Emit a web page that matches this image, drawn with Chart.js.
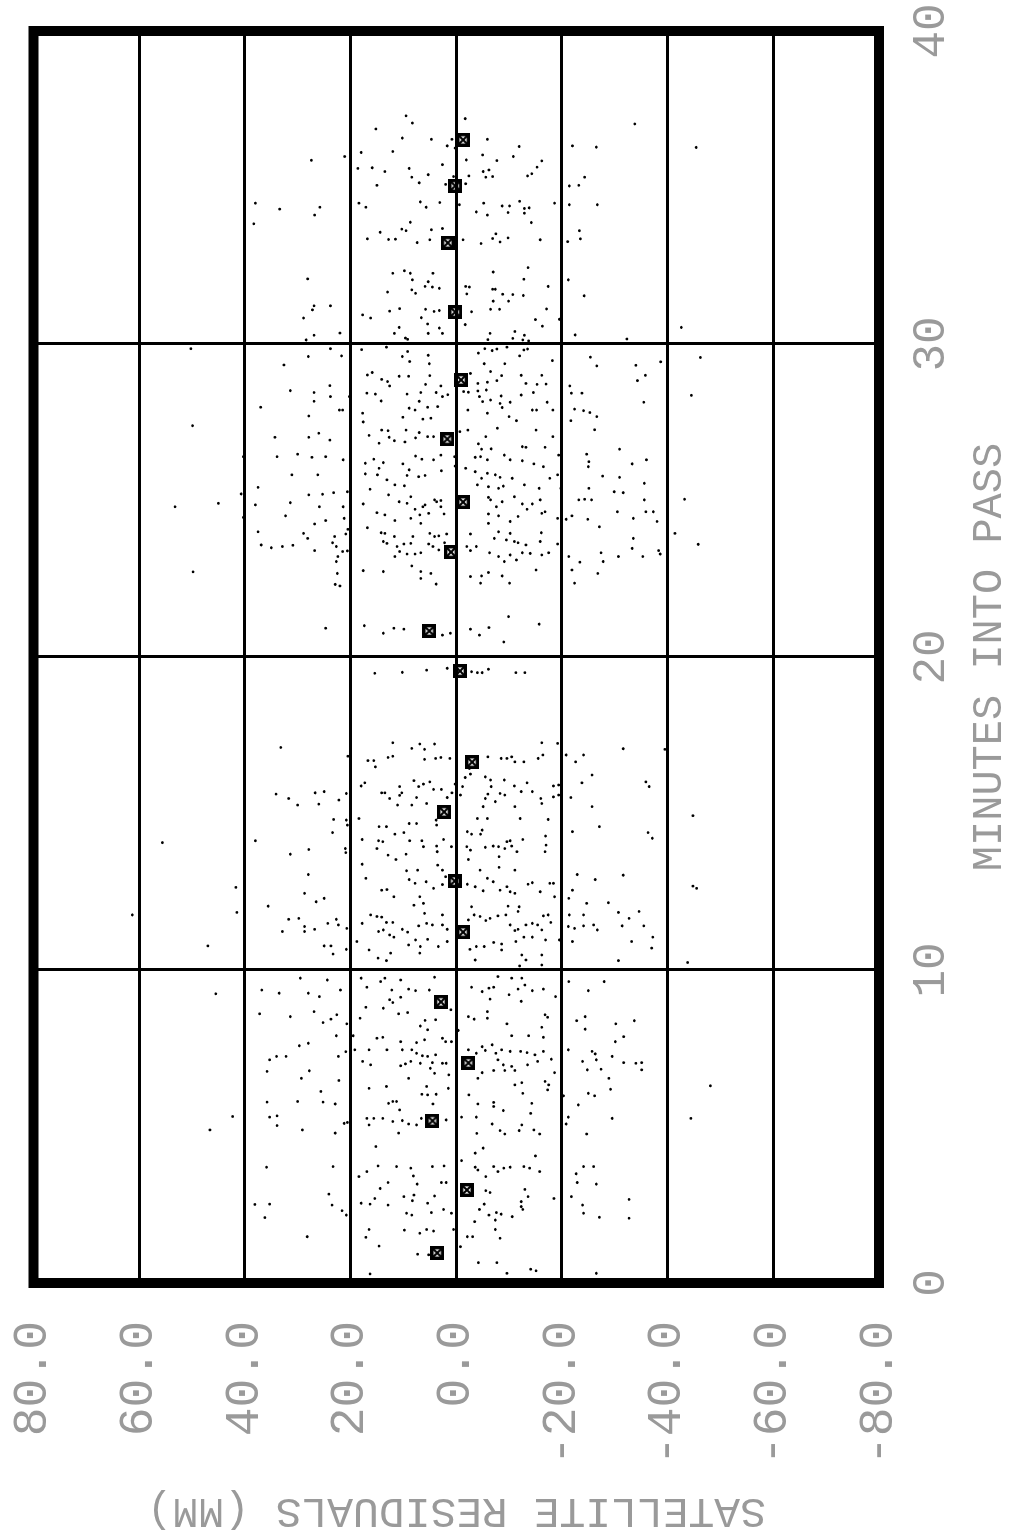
<!DOCTYPE html>
<html>
<head>
<meta charset="utf-8">
<title>Satellite residuals</title>
<script src="https://cdn.jsdelivr.net/npm/chart.js@4/dist/chart.umd.min.js"></script>
<style>
  html, body { margin: 0; padding: 0; background: #fff; overflow: hidden; width: 1023px; height: 1536px; }
  /* the chart is drawn the usual way and then turned a quarter left, like the scanned page */
  #wrap { position: absolute; left: 0; top: 0; width: 1536px; height: 1023px;
          transform-origin: 0 0; transform: translateY(1536px) rotate(-90deg); }
</style>
</head>
<body>
<div id="wrap"><canvas id="chart"></canvas></div>
<script>
// axis ticks
const minuteTicks = [0, 10, 20, 30, 40];
const residTicks = [-80, -60, -40, -20, 0, 20, 40, 60, 80];

// normal points (crossed boxes): minutes into pass / residual in mm
const normalMin = [36.52, 35.05, 33.23, 31.02, 28.85, 26.96, 24.95, 23.35, 20.83, 19.55,
                   16.64, 15.05, 12.84, 11.21, 8.98, 7.03, 5.18, 2.97, 0.96];
const normalRes = [-1.3, 0.2, 1.6, 0.2, -0.9, 1.7, -1.3, 1.0, 5.1, -0.7,
                   -3.0, 2.3, 0.3, -1.3, 2.9, -2.3, 4.5, -2.0, 3.6];

// single range residuals, [minute, residual]
const dots30to38 = [
  [37.29,9.5],[37.06,8.3],[37.2,-1.7],[36.87,15.2],[36.58,10.2],[36.54,4.7],[36.54,0.8],[36.54,-5.9],[36.33,1.7],[36.26,0.2],
  [36.31,-11.9],[36.33,-22],[36.29,-26.5],[37.03,-33.8],[36.28,-45.4],[36.15,12],[36.12,18],[35.99,21.1],[35.87,27.4],[35.88,-1.9],
  [36.04,-5],[35.86,-7.7],[35.99,-10.8],[35.85,-16.2],[35.73,2.6],[35.61,18.6],[35.63,15.9],[35.51,13.5],[35.61,8.9],[35.51,-5.1],
  [35.56,-6.2],[35.37,-2.4],[35.33,-5.6],[35.35,-6.9],[35.35,0.5],[35.33,8.4],[35.41,5.3],[35.37,-13.5],[35.44,-14.3],[35.65,-15.3],
  [35.33,-24.3],[35.15,7],[35.1,2],[35.12,-1.8],[35.07,15],[35.05,-21.4],[35.07,-23.2],
  [34.5,38],[34.31,33.4],[34.37,25.8],[34.12,26.8],[33.84,38.3],[34.5,18.4],[34.37,17.1],[34.54,6.8],[34.52,3.1],[34.37,5.7],
  [34.45,-0.6],[34.5,-5.2],[34.22,-3.8],[34.12,-5.9],[34.41,-8.7],[34.41,-10.1],[34.2,-9.8],[34.56,-12],[34.33,-12.9],[34.35,-13.8],
  [34.18,-12.9],[34.5,-18.6],[34.45,-21.4],[34.45,-26.7],[33.88,-14.2],[33.89,8.7],[33.67,10.3],[33.62,9.5],[33.65,4.7],[33.69,2.6],
  [33.57,14.4],[33.36,16.8],[33.34,12.8],[33.35,11.5],[33.24,7.4],[33.33,5],[33.33,-1.3],[33.21,-4.7],[33.37,-6.9],[33.52,-7.5],
  [33.26,-8.3],[33.39,-9.8],[33.33,-15.9],[33.27,-21.1],[33.62,-23.3],[33.36,-23.5],
  [32.26,12],[32.34,9.8],[32.26,8.7],[32.05,8.3],[32.26,4.4],[31.99,5.3],[31.84,5.9],[31.82,4.5],[31.78,3.2],[31.73,8.4],
  [31.62,7.7],[31.66,13],[32.08,28.1],[32.3,-7],[32.44,-13.6],[32.07,-12.8],[31.84,-17.4],[32.05,-21.2],[31.54,-24.2],[31.84,-1.8],
  [31.82,-2.5],[31.6,-2],[31.75,-6.9],[31.75,-7.4],[31.59,-8.8],[31.58,-10.7],[31.55,-12.7],[31.37,-7],[31.37,-9.9],[31.22,26.9],
  [31.22,23.8],[31.09,27.2],[30.83,28.9],[30.93,17.7],[30.83,16.2],[31.05,12.6],[31.13,10.7],[31.11,5.8],[31.04,4.2],[31.07,3.2],
  [31.03,-2.9],[31.11,-6.5],[31.11,-8.2],[31.12,-17.1],[30.78,-15],[30.57,-16.3],[30.79,-19.5],[30.62,-1.7],[30.84,6.6],[30.64,5.4],
  [30.51,3.2],[30.53,10.8],[30.34,11.7],[30.19,9.6],[30.15,9.2],[30.34,5.3],[30.34,2.6],[30.34,-6.4],[30.4,-11.1],[30.28,-12.9],
  [30.18,-10.7],[30.13,-12.6],[30.1,-13.7],[30.14,-6],[30.29,-22.5],[30.16,-32.3],[30.53,-42.6],[30.35,22],[30.28,26.9],[30.13,28.4]
];

const dots21to30 = [
  [29.85,50.2],[29.6,28],[29.33,32.6],[29.85,23.8],[29.62,21.7],[29.82,17.9],[29.9,13.2],[29.6,10.2],[29.76,9.2],[29.44,8.8],
  [29.64,5.3],[29.37,5.1],[29.71,-4.2],[29.85,-5.4],[29.79,-6.8],[29.84,-7.7],[29.9,-9.6],[29.62,-12],[29.81,-12.8],[29.84,-13.5],
  [29.37,-9.2],[29.37,-5.3],[29.47,-18.2],[29.58,-25.4],[29.3,-26.6],[29.32,-34],[29.43,-38.7],[29.57,-46.2],
  [29.09,15.9],[29.01,16.8],[28.87,14.1],[28.8,13],[28.97,10.8],[28.97,9],[28.99,5],[29.12,-6.5],[28.99,-8.6],[29,-12.3],
  [29,-16.2],[29,-35.8],[28.83,-34.3],[29.06,-2.7],[28.67,23.9],[28.51,31.4],[28.45,26.9],[28.43,16.9],[28.4,15.3],[28.66,12.6],
  [28.71,5.8],[28.66,2.9],[28.74,-4.1],[28.78,-5.9],[28.83,-7.7],[28.74,-13.2],[28.71,-15.3],[28.72,-17],[28.66,-21.5],[28.43,-23.8],
  [28.48,-1.4],[28.46,-2.3],[28.5,-4.1],[28.53,-5.7],[28.34,-8.5],[28.37,-12.3],[28.45,-14.6],[28.36,-44.5],[28.32,20.2],[28.32,23.8],
  [28.17,26.9],[28.18,14.2],[28.4,9.3],[28.45,6.7],[28.17,7],[28.45,3.8],[28.32,2.6],[28.38,1.6],[28.32,-4.4],[28.16,-5],
  [28.21,-6.5],[28.1,-8.3],[28.14,-10.2],[28.14,-17.2],[28.14,-35.5],[28.43,-21.8],[27.98,37],[27.89,22.1],[27.89,21.5],[27.95,8.9],
  [27.89,7.8],[27.98,5.4],[28,3.5],[27.89,-2.2],[27.97,-8.7],[27.89,-14.4],[27.89,-18.3],[27.92,-22.4],[27.87,-24.1],[27.81,-25.3],
  [27.68,-10],[27.55,-11.4],[27.55,-21.7],[27.68,-26.6],[27.7,27.9],[27.79,17.7],[27.51,17.6],[27.66,10.1],[27.6,6.3],[27.63,4.8],
  [27.79,-5.9],[27.89,-15.2],[27.39,49.9],[27.26,-26.2],[27.25,14.1],[27.23,12.9],[27.25,9.5],[27.17,7],[27.04,5.4],[27.04,4.3],
  [27.2,-0.7],[27.25,-2.2],[27.04,-5.6],[27.31,-7.8],[27.25,-15.1],[27.04,-18.3],[27.02,34.3],[27.02,27.9],[27.15,26],[26.93,23.9],
  [27.08,16.5],[26.83,14.6],[27.02,12.7],[26.91,11.7],[26.87,9.7],[27,7.7],[26.81,-4.2],[26.72,-12.5],[26.65,-6.6],[26.64,-4.8],
  [26.7,-13.2],[26.7,-16.8],[26.64,-30.9],
  [26.4,33.9],[26.48,30],[26.38,27.3],[26.4,24.7],[26.3,21.4],[26.4,40.3],[26.19,17.2],[26.32,15.6],[26.21,13.8],[26.03,14.6],
  [26.17,10.1],[25.98,8.9],[26.42,7.7],[26.32,6.5],[26.3,4.3],[26.45,2.9],[26.4,0.3],[26.1,0.2],[26.03,-1.8],[26.38,-3.6],
  [26.4,-4.6],[26.3,-5.9],[26.45,-9.1],[26.3,-10.2],[26.27,-12.5],[26.17,-14.7],[26.08,-16.5],[26.45,-19.4],[26.48,-24.7],[26.24,-25.1],
  [26.08,-25],[26.17,-33.3],[26.3,-36],[25.82,31.1],[25.82,26.2],[25.85,17.2],[25.82,14.9],[25.66,13.1],[25.8,9.3],[25.76,7.1],
  [25.8,5.9],[25.95,2.8],[25.92,-3.6],[25.71,-4.8],[25.87,-5.9],[25.82,-7.4],[25.74,-8.3],[25.71,-10.6],[25.71,-17.7],[25.82,-19.2],
  [25.78,-27.7],[25.74,-30.9],[25.55,-35.6],
  [25.42,37.5],[25.18,27.9],[25.2,25.3],[25.25,23.2],[25.28,20.6],[25.36,16.3],[25.18,12.8],[25.5,11.6],[25.47,9.8],[25.12,8.6],
  [24.8,6.3],[25.02,4.1],[25,2.9],[25.5,-4],[25.44,-6.1],[25.39,-8],[25.46,-8.9],[25.5,-12.9],[25.39,-15.7],[25.39,-19.8],
  [25.39,-25.1],[25.28,-29.9],[25.25,-31.6],[25.21,40.7],[24.86,38],[24.8,53.2],[24.91,45],[24.93,31.4],[24.8,25.9],[24.8,21.4],
  [24.89,17.6],[24.61,15],[24.54,13.5],[24.96,10.8],[24.91,9.3],[24.72,7.8],[24.54,6.9],[24.86,5.9],[24.59,5.2],[24.96,3.7],
  [24.8,2.9],[24.57,2.3],[25.1,-6.1],[25.02,-6.5],[24.8,-7.6],[24.57,-6.1],[24.96,-8.7],[25.12,-11],[24.89,-12.5],[24.72,-13.4],
  [24.89,-14.4],[25.02,-15.9],[24.59,-16.2],[24.64,-16.8],[24.43,-19.2],[25.02,-23.2],[25.04,-24.3],[25.02,-25.6],[24.64,-30.5],[24.43,-33.5],
  [25.02,-35.6],[24.64,-35.9],[24.64,-37.3],[24.33,-38],[25.04,-43.2],
  [24.51,32.3],[24.46,40.3],[24.25,26.8],[24.36,24.7],[24.43,21.2],[24.36,11.6],[24.43,8.6],[24.27,6.7],[24.27,-6.1],[24.51,-8],
  [24.33,-10.2],[24.49,-11.7],[24.4,-20.8],[24.51,-21.9],[24.4,-24.9],[24.16,-27.1],[24,37.5],[23.95,28.9],[23.79,28.1],[23.85,23],
  [23.93,20.9],[24.08,20.5],[24.13,16.8],[23.97,14.2],[23.95,13.5],[23.85,11.7],[23.85,8.2],[23.95,5],[23.85,4.1],[23.87,3.3],
  [23.93,1.8],[23.93,-2.7],[23.79,-7.2],[24,-8],[23.74,-9.5],[23.95,-10.2],[23.69,-11],[23.65,-11.7],[23.58,-13.2],[23.97,-16.1],
  [23.69,-15.9],[23.61,-19.2],[23.79,-33.5],[23.95,-41.4],[23.6,-45.8],
  [23.58,36.9],[23.49,35],[23.53,32.9],[23.57,30.9],[23.4,26.8],[23.65,23.4],[23.53,22.7],[23.37,21.5],[23.39,20.6],[23.21,22.4],
  [23.05,22.7],[22.67,22.5],[22.32,22.9],[22.27,22],[22.76,17.6],[22.73,13.8],[23.69,13.8],[23.63,13.1],[23.53,11.2],[23.61,9.9],
  [23.63,8.6],[23.37,10.7],[23.21,11.6],[23.29,9.3],[23.29,7.8],[23.33,6.7],[23.61,5.2],[23.53,4.4],[23.65,2.2],[23.42,3.3],
  [23.53,-2],[23.53,-3.8],[23.4,-2.7],[23.33,-6.3],[23.21,-8],[23.05,-9.1],[23.26,-10.2],[23.1,-11.4],[23.33,-12.5],[23.31,-14],
  [23.26,-16.2],[23.33,-17.5],[23.21,-21.3],[23.03,-23.4],[23.33,-27.4],[23.05,-27.8],[23.21,-30.7],[23.47,-33.3],[23.21,-35.3],[23.4,-38.3],
  [23.29,-38.6],[22.78,-21.9],[22.67,-26.8],[22.36,-22.4],[22.78,-15.1],[22.59,-8.7],[22.36,-10.1],[22.7,-6.1],[22.59,-4.8],[22.57,-2.7],
  [22.36,-4.6],[22.91,8.4],[22.73,6.7],[22.67,4.8],[22.51,6.7],[22.33,3.8],[22.72,49.8],[21.29,-9.9],[21.05,-15.7],[20.92,24.7],
  [21,17.4],[20.76,13.8],[20.92,11.8],[20.89,9.9],[20.7,2.6],[20.76,1.1],[20.89,-2.7],[20.7,-4.4],[20.94,-6.2]
];

const dots12to21 = [
  [20.48,-9.0],[19.48,15.4],[19.51,10.2],[19.58,5.6],[19.64,1.7],[19.53,-2.9],[19.5,-4.0],[19.5,-4.9],[19.61,-6.1],[19.5,-11.3],
  [19.5,-13.0],
  [17.11,33.2],[17.26,12.0],[17.08,8.4],[17.22,6.9],[17.05,6.0],[17.22,4.1],[17.26,-16.2],[17.24,-19.2],[17.07,-31.6],[17.05,-39.5],
  [16.83,20.5],[16.69,16.7],[16.69,15.6],[16.49,15.3],[16.79,12.9],[16.83,12.0],[16.73,6.0],[16.76,3.9],[16.79,2.9],[16.76,1.2],
  [16.81,-6.0],[16.76,-8.5],[16.76,-9.6],[16.65,-11.1],[16.81,-10.5],[16.65,-12.8],[16.76,-15.5],[16.87,-16.4],[16.87,-20.8],[16.65,-22.6],
  [16.87,-24.1],[16.23,-25.7],[15.98,-23.8],[15.91,-19.4],[16.01,-35.9],[15.86,-36.5],[14.93,-44.8],[14.39,-36.3],[14.21,-37.1],[13.03,-31.6],
  [12.68,-44.8],[12.61,-45.5],[15.51,-21.7],[15.22,-25.7],[14.42,-22.0],[14.58,-27.1],[13.05,-22.9],[12.89,-26.3],
  [16.44,-2.5],[16.26,-2.7],[16.17,-5.5],[16.07,-6.5],[16.07,-9.1],[15.88,-11.0],[15.98,-13.4],[15.7,-12.3],[15.7,-14.4],[15.59,-9.2],
  [15.64,-8.3],[15.86,-6.6],[15.62,-6.0],[16.15,-1.7],[15.86,-1.2],[15.59,-0.8],[15.94,0.2],[15.66,0.8],[15.51,1.7],[15.77,2.8],
  [15.77,4.3],[16.01,5.0],[15.94,6.2],[16.05,8.0],[15.86,7.1],[15.86,10.7],[15.66,10.3],[15.58,10.7],[15.66,13.5],[15.66,14.1],
  [15.88,18.0],[15.98,17.3],[15.64,20.8],[15.7,25.0],[15.66,26.7],[15.62,34.1],[15.48,31.7],[15.27,30.0],[15.3,26.0],[15.43,22.2],
  [15.48,12.6],[15.27,11.1],[15.51,7.5],[15.27,8.4],[15.32,5.6],[14.79,3.8],[14.63,3.7],[15.48,-5.5],[15.38,-7.4],[15.22,-5.1],
  [15.22,-11.1],[15.48,-16.0],[15.32,-16.2],[15.53,-18.4],[15.59,-19.4],[15.88,-18.4],[14.84,-4.0],[14.84,-5.9],[14.84,-12.1],[14.81,-17.4],
  [14.81,23.2],[14.79,20.8],[14.63,20.6],[14.84,18.4],[14.39,23.4],[14.58,14.6],[14.58,13.2],[14.34,11.6],[14.39,9.9],[14.68,8.9],
  [14.68,7.5],[14.42,-2.1],[14.34,-2.9],[14.47,-4.9],[14.34,-4.6],[14.28,-16.9],
  [14.17,17.8],[14.13,14.7],[14.1,13.9],[14.13,8.8],[14.13,6.5],[14.17,2.4],[14.17,-12.6],[14.1,-9.6],[14.13,-10.2],[14.13,38.0],
  [14.07,55.6],[13.7,31.4],[13.85,27.9],[13.88,21.0],[13.75,20.9],[13.88,15.0],[13.67,12.9],[13.53,11.4],[13.7,9.5],[13.94,6.2],
  [13.96,3.7],[13.78,3.6],[13.94,0.9],[13.94,-2.0],[13.83,-2.7],[13.92,-5.5],[13.96,-7.0],[13.94,-8.0],[13.88,-9.2],[13.96,-10.5],
  [13.78,-11.5],[13.62,-8.1],[13.78,-16.8],[13.99,-17.0],[13.38,17.8],[13.35,3.5],[13.53,-2.3],[13.28,-8.1],[13.19,-4.5],[13.19,-11.1],
  [13.05,28.0],[12.93,17.1],[13.17,9.4],[13.19,7.3],[12.89,8.9],[12.77,7.8],[12.82,5.7],[12.61,4.3],[12.73,2.6],[13.19,2.6],
  [12.98,2.0],[12.74,-2.1],[12.66,-3.6],[12.53,-5.1],[12.93,-5.9],[12.82,-7.0],[12.55,-8.3],[12.66,-9.6],[12.5,-10.2],[12.45,-11.1],
  [12.74,-13.6],[12.79,-14.4],[12.77,-17.7],[12.77,-18.4],[12.5,-15.9],[12.64,41.7],[12.45,28.7],[12.29,25.0],[12.18,26.5],[12.04,35.6],
  [12.55,14.1],[12.57,13.1],[12.34,6.9],[12.34,11.8],[12.07,8.0],[12.13,6.2],[12.02,-2.9],[12.04,-9.8],[12.02,-11.9],[12.34,-18.6],
  [12.29,-21.3],[12.13,-24.7],[12.15,-28.8],[12.55,-22.0]
];

const dots3to12 = [
  [11.76,61.3],[11.84,41.5],[11.62,31.7],[11.65,29.8],[11.23,28.7],[11.39,28.7],[11.3,26.8],[11.49,24.3],[11.62,22.7],[11.44,22.3],
  [11.33,20.7],[11.23,32.9],[10.77,47.0],[10.77,25.0],[10.77,23.7],[10.51,23.3],[10.66,20.8],[11.49,17.8],[11.76,16.2],[11.71,15.0],
  [11.69,14.1],[11.52,13.2],[11.52,12.0],[11.23,14.7],[11.28,13.8],[11.12,12.6],[11.05,11.8],[11.3,10.2],[11.21,9.2],[11.41,7.1],
  [11.49,5.6],[11.44,4.5],[11.44,2.6],[11.3,1.7],[10.96,7.7],[10.98,5.4],[10.75,6.8],[10.8,9.0],[10.91,18.8],[10.64,16.5],
  [10.54,12.4],[10.38,14.8],[10.3,13.2],[10.54,6.9],[10.75,3.4],[10.91,1.7],[11.81,6.0],[11.76,2.6],
  [11.6,-2.3],[11.76,-3.4],[11.71,-4.5],[11.58,-5.6],[11.65,-6.4],[11.73,-7.9],[11.76,-9.4],[11.87,-11.7],[11.44,-10.2],[11.3,-11.7],
  [11.26,-11.1],[11.44,-13.2],[11.49,-14.4],[11.44,-15.4],[11.73,-16.5],[11.76,-17.4],[11.52,-17.9],[11.05,-12.8],[11.05,-14.4],[11.28,-16.2],
  [10.96,-16.9],[10.91,-11.3],[10.83,-8.6],[10.88,-7.1],[10.75,-5.3],[10.75,-3.8],[10.66,-2.6],[10.64,-8.6],[10.32,-3.6],[10.48,-12.4],
  [10.48,-16.2],[10.32,-13.2],[10.13,-12.0],[10.16,-16.2],[10.96,-19.5],[11.76,-21.4],[11.76,-24.1],[11.39,-21.2],[11.33,-22.4],[11.41,-24.1],
  [11.44,-26.0],[11.28,-26.7],[10.91,-22.0],[11.84,-30.7],[11.65,-32.7],[11.87,-34.6],[11.41,-31.4],[11.41,-35.5],[10.91,-33.2],[11.05,-37.2],
  [10.7,-37.0],[10.3,-30.7],[10.24,-43.8],
  [9.74,29.5],[9.68,24.4],[9.36,36.8],[9.26,33.5],[9.26,28.0],[9.15,25.9],[9.36,21.9],[9.24,45.5],[8.6,37.2],[8.51,31.4],
  [8.67,26.9],[8.32,25.2],[8.43,23.7],[8.57,22.6],[8.28,20.7],[7.9,22.7],[7.58,29.7],[7.66,28.0],[7.24,34.0],[7.24,32.2],
  [7.13,35.3],[6.76,35.8],[6.54,29.3],[6.78,27.8],[7.24,22.3],[7.39,20.9],[6.12,25.6],[5.8,30.0],[5.78,35.8],[5.78,25.2],
  [5.72,22.9],[6.47,22.2],[5.3,35.3],[5.34,33.9],[5.03,33.9],[4.89,29.1],[4.79,22.9],[5.1,21.2],[5.13,20.6],[5.32,42.3],
  [4.89,46.6],
  [9.74,18.0],[9.45,16.9],[9.63,14.3],[9.74,13.5],[9.68,10.5],[9.39,9.0],[9.36,12.2],[9.34,7.7],[9.36,5.1],[9.77,4.1],
  [9.13,10.5],[9.05,12.6],[8.96,12.0],[8.81,17.1],[8.78,13.8],[8.6,10.9],[8.64,9.2],[8.39,5.9],[8.41,3.9],[8.73,1.0],
  [8.46,18.2],[8.21,6.8],[8.09,5.4],[7.9,19.5],[7.82,15.0],[7.85,13.9],[7.71,10.5],[7.68,7.5],[7.77,6.0],[7.82,2.6],
  [7.71,2.0],[7.71,0.9],[7.45,19.2],[7.45,16.5],[7.45,13.1],[7.45,10.2],[7.45,8.4],[7.34,7.5],[7.26,6.4],[7.24,5.4],
  [7.29,3.9],[7.02,2.6],[7.04,4.5],[7.08,17.7],[6.97,16.2],[6.94,10.5],[7.0,9.6],[7.08,8.6],[7.02,6.8],[6.86,4.9],
  [6.7,4.1],[6.65,1.4],[7.02,1.9],[6.54,9.0],[6.28,13.2],[6.22,16.5],[6.28,5.6],[6.03,3.8],[6.01,5.4],[6.03,6.5],
  [6.22,1.5],[5.8,12.0],[5.74,12.8],[5.8,11.3],[5.72,4.4],[5.53,10.7],[5.26,16.9],[5.26,15.6],[5.26,13.9],[5.05,16.5],
  [5.16,12.0],[5.19,10.2],[5.08,9.0],[5.05,7.5],[5.26,6.6],[5.21,1.9],[4.79,10.9],[4.36,15.2],[3.74,2.3],[3.72,4.5],
  [3.74,14.8],[3.72,11.3],[3.67,8.6],[3.56,16.9],[3.4,18.4],[3.42,8.1],[3.7,35.9],[3.72,23.3],
  [9.79,-7.9],[9.74,-10.5],[9.74,-12.4],[9.52,-13.0],[9.45,-2.9],[9.31,-4.9],[9.42,-6.2],[9.45,-7.1],[9.07,-6.4],[9.21,-10.0],
  [9.39,-11.7],[9.34,-14.4],[9.39,-16.5],[9.15,-18.8],[9.0,-12.3],[8.51,-2.3],[8.43,-3.4],[8.67,-5.9],[8.46,-5.9],[8.57,-16.8],
  [8.49,-17.3],[8.28,-9.6],[8.17,-16.2],[8.07,-0.4],[7.9,-10.5],[7.9,-13.7],[7.85,-16.5],[7.45,-2.3],[7.34,-3.8],[7.55,-4.9],
  [7.43,-5.5],[7.61,-6.8],[7.34,-7.5],[7.45,-8.6],[7.4,-10.2],[7.4,-12.2],[7.36,-13.4],[7.29,-14.9],[7.08,-15.4],[7.4,-16.5],
  [7.15,-18.0],[7.13,-7.9],[6.97,-8.9],[6.79,-9.2],[6.92,-10.5],[6.79,-11.1],[6.97,-13.5],[6.72,-18.6],[6.72,-4.9],[6.79,-7.1],
  [6.54,-4.1],[6.33,-11.1],[6.4,-12.4],[6.06,-12.6],[6.17,-17.3],[6.33,-17.5],[6.44,-16.8],[6.01,-2.4],[5.72,-4.1],[5.77,-7.1],
  [5.74,-14.3],[5.42,-14.1],[5.64,-7.1],[5.51,-8.9],[5.3,-1.0],[5.3,-3.8],[5.08,-6.8],[5.05,-12.4],[4.89,-14.7],[4.78,-3.9],
  [4.87,-8.3],[4.76,-9.2],[4.87,-11.9],[4.76,-15.8],[4.15,-3.6],[4.31,-5.1],[4.06,-15.0],[3.91,-1.0],[3.7,-3.6],[3.61,-4.1],
  [3.72,-7.1],[3.67,-9.0],[3.7,-10.2],[3.72,-12.8],[3.67,-13.9],[3.56,-15.8],[3.56,-7.9],[3.4,-5.6],
  [9.63,-21.3],[9.34,-25.0],[9.63,-28.0],[8.38,-22.8],[8.51,-24.4],[8.11,-24.4],[8.28,-30.2],[8.38,-33.7],[7.87,-31.7],[7.71,-30.1],
  [7.45,-21.2],[7.4,-25.7],[7.32,-26.3],[7.08,-23.9],[7.13,-26.5],[6.83,-27.4],[7.24,-29.5],[7.04,-31.7],[7.02,-34.0],[7.04,-35.1],
  [6.81,-35.1],[6.81,-24.8],[6.54,-28.9],[6.19,-29.2],[5.98,-26.2],[6.06,-25.0],[5.69,-23.1],[5.98,-20.3],[5.3,-21.2],[5.08,-20.8],
  [5.26,-29.5],[4.76,-24.7],[6.3,-48.1],[5.26,-44.4],[3.49,-22.7],[3.72,-24.1],[3.72,-26.0]
];

const dots0to3 = [
  [2.84,24.1],[2.49,23.5],[2.31,21.6],[2.17,20.8],[2.51,38.1],[2.52,35.3],[2.09,36.2],[1.48,28.2],[2.55,18.0],[2.52,16.3],
  [2.7,15.4],[3.02,14.4],[2.49,12.9],[3.21,12.9],[2.76,9.9],[2.81,8.0],[3.16,7.4],[2.63,8.3],[2.17,8.4],[2.23,9.4],
  [2.55,5.4],[2.25,4.7],[2.78,4.1],[3.21,2.8],[3.21,1.9],[2.35,2.4],[2.23,0.9],[1.71,16.5],[1.46,17.1],[1.18,14.6],
  [1.69,9.8],[1.59,6.9],[1.71,5.6],[1.66,4.3],[0.92,7.3],[0.9,5.2],[0.29,16.3],[1.71,0.5],
  [2.35,-4.4],[2.52,-5.3],[2.95,-5.6],[2.89,-6.4],[2.17,-6.2],[2.25,-7.6],[2.2,-8.5],[2.01,-7.4],[2.12,-10.6],[2.44,-12.3],
  [2.35,-12.6],[2.99,-13.0],[2.76,-13.6],[2.6,-12.3],[1.96,-3.5],[1.71,-7.4],[1.48,-2.1],[1.48,-3.1],[1.43,-8.3],[0.65,-4.2],
  [0.65,-7.7],[0.31,-9.6],[0.44,-14.1],[0.39,-15.1],[2.7,-18.5],[2.76,-21.8],[2.49,-23.9],[2.23,-24.1],[2.1,-27.1],[2.67,-32.7],
  [2.07,-32.7],[0.31,-26.5],[1.16,-0.8],[3.21,-22.9],[3.16,-26.5]
];

const allDots = [...dots30to38, ...dots21to30, ...dots12to21, ...dots3to12, ...dots0to3];

// crossed box marker for the normal points
function crossedBox(size) {
  const c = document.createElement('canvas');
  c.width = size; c.height = size;
  const g = c.getContext('2d');
  g.strokeStyle = '#000';
  g.lineWidth = 3.4;
  g.strokeRect(1.7, 1.7, size - 3.4, size - 3.4);
  g.lineWidth = 2.2;
  g.beginPath();
  g.moveTo(3, 3); g.lineTo(size - 3, size - 3);
  g.moveTo(size - 3, 3); g.lineTo(3, size - 3);
  g.stroke();
  return c;
}

// heavy frame round the plot area
const frame = {
  id: 'frame',
  afterDraw(chart) {
    const { ctx, chartArea: a } = chart;
    ctx.save();
    ctx.lineWidth = 10;
    ctx.strokeStyle = '#000';
    ctx.strokeRect(a.left, a.top, a.right - a.left, a.bottom - a.top);
    ctx.restore();
  }
};

// keep the axes from pushing the plot in for overhanging edge labels
function noOverhang(s) {
  s.paddingLeft = 0; s.paddingRight = 0; s.paddingTop = 0; s.paddingBottom = 0;
}

const labelColor = '#9a9a9a';
const mono = 'Liberation Mono';

const ctx = document.getElementById('chart').getContext('2d');
new Chart(ctx, {
  type: 'scatter',
  data: {
    datasets: [
      {
        label: 'normal points',
        data: normalMin.map((m, i) => ({ x: m, y: normalRes[i] })),
        pointStyle: crossedBox(14),
        pointRadius: 7,
        order: 0
      },
      {
        label: 'residuals',
        data: allDots.map(d => ({ x: d[0], y: d[1] })),
        pointStyle: 'circle',
        pointRadius: 1.4,
        backgroundColor: '#000',
        borderWidth: 0,
        order: 1
      }
    ]
  },
  options: {
    responsive: true,
    maintainAspectRatio: false,
    animation: false,
    devicePixelRatio: 1,
    layout: { padding: { top: 33.5, right: 31, left: 0, bottom: 0 } },
    plugins: { legend: { display: false }, tooltip: { enabled: false } },
    scales: {
      x: {
        type: 'linear',
        min: 0,
        max: 40,
        afterBuildTicks: s => { s.ticks = minuteTicks.map(v => ({ value: v })); },
        afterFit: s => { s.height = 144; noOverhang(s); },
        ticks: { font: { family: mono, size: 46 }, color: labelColor, padding: 25, maxRotation: 0 },
        grid: { color: '#000', lineWidth: 3, drawTicks: false },
        border: { display: false },
        title: {
          display: true,
          text: 'MINUTES INTO PASS',
          font: { family: mono, size: 42 },
          color: labelColor,
          padding: { top: 0, bottom: 8 }
        }
      },
      y: {
        type: 'linear',
        min: -80,
        max: 80,
        afterBuildTicks: s => { s.ticks = residTicks.map(v => ({ value: v })); },
        afterFit: s => { s.width = 253; noOverhang(s); },
        ticks: {
          font: { family: mono, size: 48 },
          color: labelColor,
          padding: 38,
          callback: v => v.toFixed(1)
        },
        grid: { color: '#000', lineWidth: 3, drawTicks: false },
        border: { display: false },
        title: {
          display: true,
          text: 'SATELLITE RESIDUALS (MM)',
          font: { family: mono, size: 43 },
          color: labelColor,
          padding: { top: 0, bottom: 0 }
        }
      }
    }
  },
  plugins: [frame]
});
</script>
</body>
</html>
